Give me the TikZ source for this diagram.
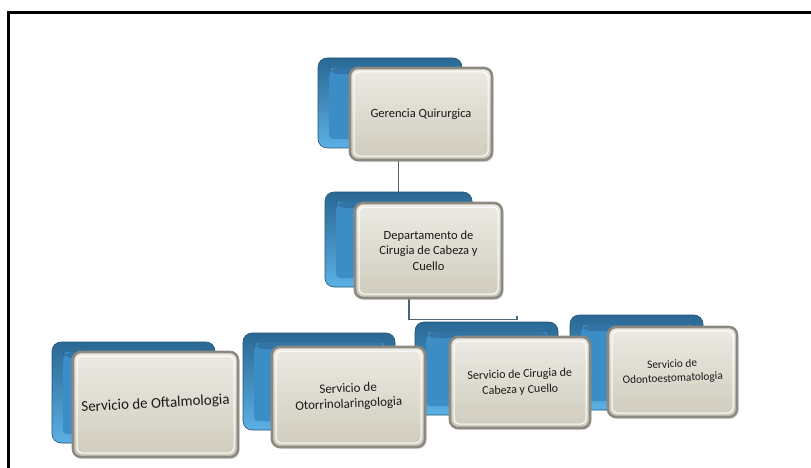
\documentclass[tikz,border=0pt]{standalone}
\usepackage{fontspec}
\setmainfont{Carlito}
\usetikzlibrary{calc,shadows}
\definecolor{rimblue}{HTML}{2A6894}
\definecolor{litblue}{HTML}{5BB0E4}
\definecolor{midblue}{HTML}{3C8CC6}
\definecolor{beigetop}{HTML}{ECEAE3}
\definecolor{beigebot}{HTML}{CFCBBD}
\definecolor{rimgray}{HTML}{8C8A80}
\definecolor{linkcol}{HTML}{4C6474}
\newcommand{\tilted}[2]{\rotatebox{#1}{\begin{tabular}{@{}c@{}}#2\end{tabular}}}
\begin{document}
\begin{tikzpicture}[x=1pt,y=-1pt,
  backbox/.style={rounded corners=9pt, draw=rimblue!80!black, line width=0.6pt,
    top color=rimblue, bottom color=litblue,
    path picture={
      \fill[midblue, rounded corners=4pt]
        ([shift={(11pt,-10pt)}]path picture bounding box.north west)
        rectangle ([shift={(-9pt,9pt)}]path picture bounding box.south east);
      \fill[rimblue!70!black, opacity=0.35]
        ([shift={(11pt,-10pt)}]path picture bounding box.north west)
        rectangle ([shift={(-9pt,-16pt)}]path picture bounding box.north east);
    }},
  frontbox/.style={rounded corners=8pt, draw=rimgray, line width=2.6pt,
    top color=beigetop, bottom color=beigebot,
    drop shadow={opacity=0.25, shadow xshift=1.5pt, shadow yshift=-2pt},
    align=center, text=black!90, inner sep=4pt,
    path picture={
      \draw[white, line width=1pt, rounded corners=5pt]
        ([shift={(4pt,-4pt)}]path picture bounding box.north west)
        rectangle ([shift={(-4pt,4pt)}]path picture bounding box.south east);
    }},
  link/.style={draw=linkcol, line width=1.4pt},
  frameline/.style={draw=black, line width=3pt}
]
\useasboundingbox (0,0) rectangle (811,468);

% outer frame: left and top edges
\coordinate (fb) at (8,468);
\coordinate (fc) at (8,13);
\coordinate (fr) at (811,13);
\draw[frameline] (fb) -- (fc) -- (fr);

% back plates
\node[backbox, minimum width=144pt, minimum height=90pt] (gb) at (390,103) {};
\node[backbox, minimum width=147pt, minimum height=95pt] (db) at (398.5,239.5) {};
\node[backbox, minimum width=163pt, minimum height=101pt] (ob) at (133.5,392.5) {};
\node[backbox, minimum width=152pt, minimum height=97pt] (rb) at (319,381.5) {};
\node[backbox, minimum width=143pt, minimum height=93pt] (cb) at (486.5,368.5) {};
\node[backbox, minimum width=133pt, minimum height=95pt] (sb) at (636.5,362.5) {};

% connectors
\draw[link] (db.north) -- ++(0,-32);
\coordinate (dsplit) at ($(db.south)+(10.5,11)$);
\coordinate (cjoin) at ($(cb.north)+(30.5,-2)$);
\draw[link] (dsplit) |- (cjoin) -- ++(0,-4);

% front cards
\node[frontbox, minimum width=142pt, minimum height=92pt, font=\fontsize{12.5}{15}\selectfont] (g) at (421,114) {Gerencia Quirurgica};
\node[frontbox, minimum width=147pt, minimum height=95pt, font=\fontsize{12.5}{15.5}\selectfont] (d) at (428.5,250.5) {Departamento de\\Cirugia de Cabeza y\\Cuello};
\node[frontbox, minimum width=165pt, minimum height=105pt, font=\fontsize{15}{17}\selectfont] (o) at (155.5,404.5) {\tilted{3}{Servicio de Oftalmologia}};
\node[frontbox, minimum width=153pt, minimum height=100pt, font=\fontsize{13}{15.5}\selectfont] (r) at (348.5,397) {\tilted{2.5}{Servicio de\\Otorrinolaringologia}};
\node[frontbox, minimum width=140pt, minimum height=91pt, font=\fontsize{12}{15.5}\selectfont] (c) at (520,382.5) {\tilted{2}{Servicio de Cirugia de\\Cabeza y Cuello}};
\node[frontbox, minimum width=129pt, minimum height=90pt, font=\fontsize{11.3}{14}\selectfont] (s) at (672.5,372) {\tilted{2.5}{Servicio de\\Odontoestomatologia}};
\end{tikzpicture}
\end{document}
